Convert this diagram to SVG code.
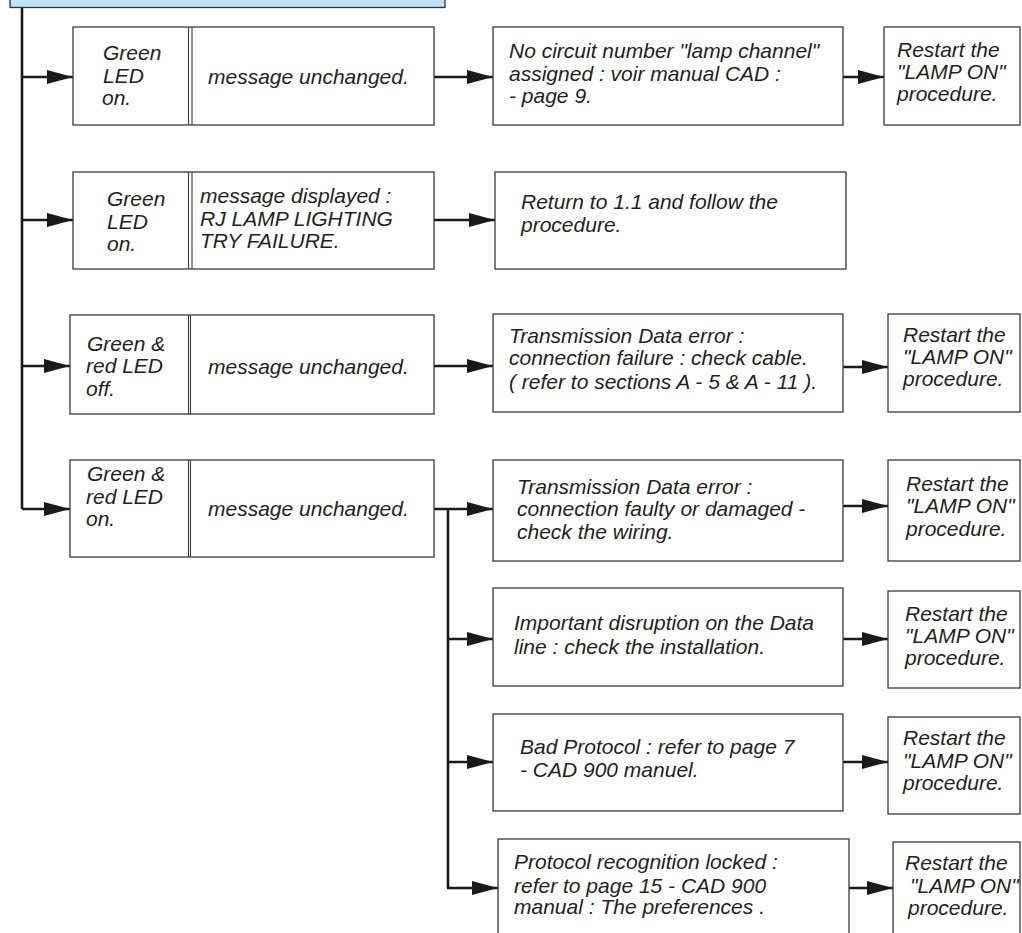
<svg xmlns="http://www.w3.org/2000/svg" width="1022" height="933" viewBox="0 0 1022 933">
<style>
.box{fill:#fff;stroke:#3a3a3a;stroke-width:1.3}
.div{stroke:#3a3a3a;stroke-width:1.1}
.t{font-family:"Liberation Sans",Arial,sans-serif;font-style:italic;font-size:21px;fill:#231f20}
.c{stroke:#1a1a1a;stroke-width:2.6;fill:none}
.a{stroke:#1a1a1a;stroke-width:2.6;fill:none;marker-end:url(#arr)}
</style>
<defs>
<marker id="arr" viewBox="0 0 26 14" refX="26" refY="7" markerWidth="26" markerHeight="14" markerUnits="userSpaceOnUse" orient="auto">
<path d="M0,0 L26,7 L0,14 Z" fill="#1a1a1a"/>
</marker>
</defs>
<rect width="1022" height="933" fill="#fff"/>
<g id="header"><rect x="10" y="-10" width="435" height="17.5" fill="#bde4f6" stroke="#333" stroke-width="1.3"/></g>

<g id="connectors">
<path class="c" d="M22,7.5 V509"/>
<path class="a" d="M21,77 H73"/>
<path class="a" d="M21,220 H73"/>
<path class="a" d="M21,366 H70"/>
<path class="a" d="M22,509 H70"/>
<path class="a" d="M434,77 H493"/>
<path class="a" d="M843,77 H884"/>
<path class="a" d="M434,220 H495"/>
<path class="a" d="M434,366 H493"/>
<path class="a" d="M843,367 H888"/>
<path class="a" d="M434,509 H493"/>
<path class="c" d="M448,509 V888"/>
<path class="a" d="M843,506 H888"/>
<path class="a" d="M447,639 H493"/>
<path class="a" d="M843,639 H888"/>
<path class="a" d="M447,762 H493"/>
<path class="a" d="M843,762 H888"/>
<path class="a" d="M447,888 H498"/>
<path class="a" d="M849,888 H893"/>
</g>

<g id="led1">
<rect class="box" x="73" y="27" width="361" height="98"/>
<line class="div" x1="188.5" y1="27" x2="188.5" y2="125"/><line class="div" x1="192" y1="27" x2="192" y2="125"/>
<text class="t"><tspan x="103" y="59.5">Green</tspan><tspan x="103" y="82.5">LED</tspan><tspan x="102" y="105">on.</tspan></text>
<text class="t" x="208" y="83.5">message unchanged.</text>
</g>
<g id="res1">
<rect class="box" x="493" y="27" width="350" height="98"/>
<text class="t"><tspan x="509" y="58">No circuit number "lamp channel"</tspan><tspan x="509" y="80.5">assigned : voir manual CAD :</tspan><tspan x="509" y="102.5">- page 9.</tspan></text>
</g>
<g id="restart1">
<rect class="box" x="884" y="27" width="136" height="98"/>
<text class="t"><tspan x="897" y="57">Restart the</tspan><tspan x="897" y="79">"LAMP ON"</tspan><tspan x="897" y="100.5">procedure.</tspan></text>
</g>

<g id="led2">
<rect class="box" x="73" y="172" width="361" height="97"/>
<line class="div" x1="188.5" y1="172" x2="188.5" y2="269"/><line class="div" x1="192" y1="172" x2="192" y2="269"/>
<text class="t"><tspan x="107" y="206">Green</tspan><tspan x="107" y="229">LED</tspan><tspan x="107" y="251">on.</tspan></text>
<text class="t"><tspan x="200" y="203">message displayed :</tspan><tspan x="200" y="225.5">RJ LAMP LIGHTING</tspan><tspan x="200" y="248">TRY FAILURE.</tspan></text>
</g>
<g id="res2">
<rect class="box" x="495" y="172" width="351" height="97"/>
<text class="t"><tspan x="521" y="209">Return to 1.1 and follow the</tspan><tspan x="521" y="231.5">procedure.</tspan></text>
</g>

<g id="led3">
<rect class="box" x="70" y="315" width="364" height="99"/>
<line class="div" x1="188.5" y1="315" x2="188.5" y2="414"/><line class="div" x1="190.5" y1="315" x2="190.5" y2="414"/>
<text class="t"><tspan x="87" y="350.5">Green &amp;</tspan><tspan x="86" y="373">red LED</tspan><tspan x="86" y="395.5">off.</tspan></text>
<text class="t" x="208" y="373.5">message unchanged.</text>
</g>
<g id="res3">
<rect class="box" x="493" y="314" width="350" height="98"/>
<text class="t"><tspan x="509" y="342.5">Transmission Data error :</tspan><tspan x="509" y="365">connection failure : check cable.</tspan><tspan x="509" y="389">( refer to sections A - 5 &amp; A - 11 ).</tspan></text>
</g>
<g id="restart3">
<rect class="box" x="888" y="314" width="132" height="98"/>
<text class="t"><tspan x="903" y="342">Restart the</tspan><tspan x="903" y="364">"LAMP ON"</tspan><tspan x="903" y="385.5">procedure.</tspan></text>
</g>

<g id="led4">
<rect class="box" x="70" y="460" width="364" height="97"/>
<line class="div" x1="188.5" y1="460" x2="188.5" y2="557"/><line class="div" x1="190.5" y1="460" x2="190.5" y2="557"/>
<text class="t"><tspan x="87" y="481">Green &amp;</tspan><tspan x="86" y="503.5">red LED</tspan><tspan x="86" y="526">on.</tspan></text>
<text class="t" x="208" y="515.5">message unchanged.</text>
</g>
<g id="res4">
<rect class="box" x="493" y="460" width="350" height="101"/>
<text class="t"><tspan x="517" y="493.5">Transmission Data error :</tspan><tspan x="517" y="516">connection faulty or damaged -</tspan><tspan x="517" y="538.5">check the wiring.</tspan></text>
</g>
<g id="restart4">
<rect class="box" x="888" y="460" width="132" height="101"/>
<text class="t"><tspan x="906" y="491">Restart the</tspan><tspan x="906" y="513">"LAMP ON"</tspan><tspan x="906" y="535.5">procedure.</tspan></text>
</g>

<g id="res5">
<rect class="box" x="493" y="588" width="350" height="98"/>
<text class="t"><tspan x="514" y="630">Important disruption on the Data</tspan><tspan x="514" y="654">line : check the installation.</tspan></text>
</g>
<g id="restart5">
<rect class="box" x="888" y="591" width="132" height="97"/>
<text class="t"><tspan x="905" y="620.5">Restart the</tspan><tspan x="905" y="643">"LAMP ON"</tspan><tspan x="905" y="665">procedure.</tspan></text>
</g>

<g id="res6">
<rect class="box" x="493" y="714" width="350" height="97"/>
<text class="t"><tspan x="520" y="753.5">Bad Protocol : refer to page 7</tspan><tspan x="520" y="777">- CAD 900 manuel.</tspan></text>
</g>
<g id="restart6">
<rect class="box" x="888" y="717" width="132" height="97"/>
<text class="t"><tspan x="903" y="745">Restart the</tspan><tspan x="903" y="767.5">"LAMP ON"</tspan><tspan x="903" y="790">procedure.</tspan></text>
</g>

<g id="res7">
<rect class="box" x="498" y="839" width="351" height="110"/>
<text class="t"><tspan x="514" y="868.5">Protocol recognition locked :</tspan><tspan x="514" y="893">refer to page 15 - CAD 900</tspan><tspan x="514" y="914">manual : The preferences .</tspan></text>
</g>
<g id="restart7">
<rect class="box" x="893" y="842" width="127" height="110"/>
<text class="t"><tspan x="905" y="870">Restart the</tspan><tspan x="910" y="893">"LAMP ON"</tspan><tspan x="908" y="914.5">procedure.</tspan></text>
</g>
</svg>
